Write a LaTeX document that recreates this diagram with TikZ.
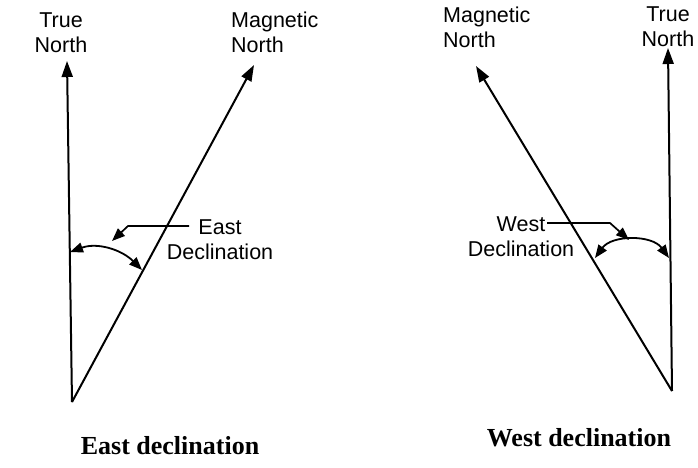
\documentclass[tikz,border=0pt]{standalone}
\usepackage{fontspec}
\setmainfont{Liberation Sans}
\newfontfamily\capfont{Liberation Serif}
\usetikzlibrary{arrows.meta}
\begin{document}
\begin{tikzpicture}[x=1pt,y=-1pt,
  lbl/.style={font=\fontsize{21.5}{25}\selectfont, inner sep=0pt, align=center},
  captxt/.style={font=\capfont\bfseries\fontsize{26}{30}\selectfont, inner sep=0pt},
  ln/.style={line width=2pt},
  tipend/.style={-{Triangle[length=16pt,width=11pt]}},
  dtip/.style={{Triangle[length=13pt,width=10pt]}-{Triangle[length=13pt,width=10pt]}, line width=1.8pt},
  ptr/.style={-{Triangle[length=13pt,width=10pt]}, line width=1.7pt}]
\useasboundingbox[fill=white] (0,0) rectangle (698,468);
% ---- left: east declination
\coordinate (LO) at (72,402);
\coordinate (LT) at (67,61);
\coordinate (LM) at (254,65);
\draw[ln,tipend] (LO) -- (LT);
\draw[ln,tipend] (LO) -- (LM);
\node[lbl] (ltn) at (61,33) {True\\North};
\node[lbl, align=left, anchor=west] (lmn) at (231,32) {Magnetic\\North};
\coordinate (LA1) at (70,252);
\coordinate (LA2) at (142,270);
\draw[dtip] (LA1) to[out=20,in=135] (LA2);
\node[lbl] (ld) at (220,240) {East\\Declination};
\coordinate (LP1) at (189,226);
\coordinate (LP2) at (128,226);
\coordinate (LP3) at (112,241);
\draw[ptr] (LP1) -- (LP2) -- (LP3);
\node[captxt] (lcap) at (170,446) {East declination};
% ---- right: west declination
\coordinate (RO) at (672,391);
\coordinate (RT) at (668,48);
\coordinate (RM) at (476,66);
\draw[ln,tipend] (RO) -- (RT);
\draw[ln,tipend] (RO) -- (RM);
\node[lbl] (rtn) at (668,27) {True\\North};
\node[lbl, align=left, anchor=west] (rmn) at (443,27) {Magnetic\\North};
\coordinate (RA1) at (595,258);
\coordinate (RA2) at (669,258);
\draw[dtip] (RA1) to[out=54,in=126] (RA2);
\node[lbl] (rd) at (521,237) {West\\Declination};
\coordinate (RP1) at (547,223);
\coordinate (RP2) at (610,223);
\coordinate (RP3) at (629,240);
\draw[ptr] (RP1) -- (RP2) -- (RP3);
\node[captxt] (rcap) at (579,438) {West declination};
\end{tikzpicture}
\end{document}
